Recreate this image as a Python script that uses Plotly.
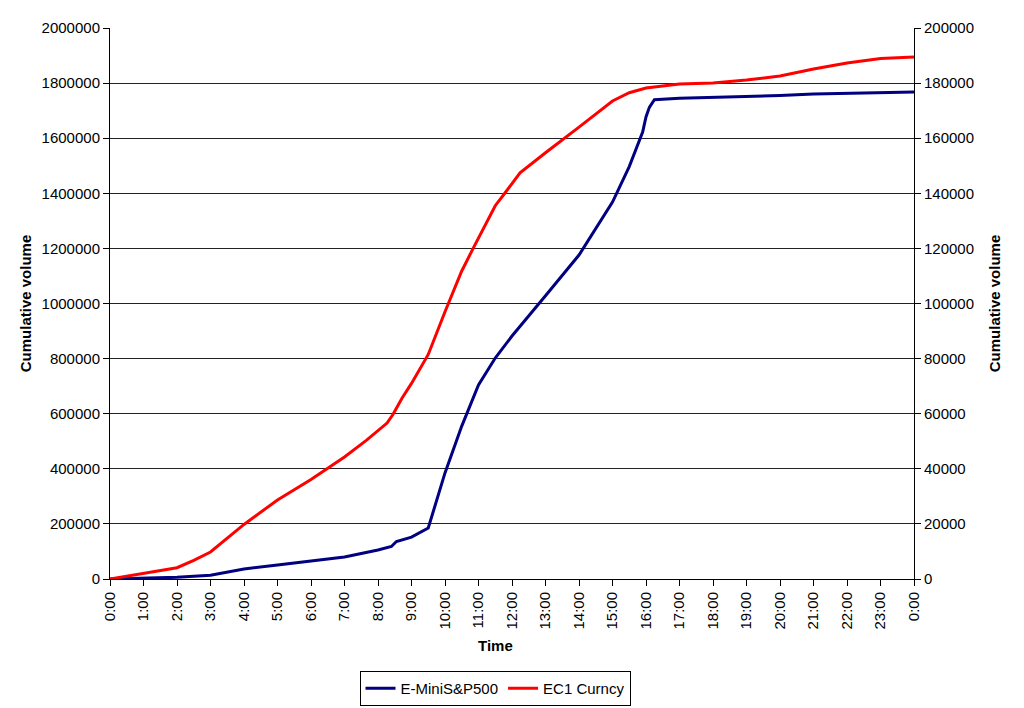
import plotly.graph_objects as go

# Hours since midnight
emini_hours = [0, 1, 2, 3, 4, 5, 6, 7, 8, 8.4, 8.55, 9, 9.5, 10, 10.5, 11, 11.5, 12, 13, 14, 15,
               15.5, 15.9, 16, 16.1, 16.25, 17, 18, 19, 20, 21, 22, 23, 24]
emini_volume = [0, 2000, 6000, 14000, 36000, 51000, 66000, 80000, 105000, 118000, 136000, 152000,
                185000, 385000, 555000, 704000, 802000, 882000, 1028000, 1176000, 1368000,
                1497000, 1622000, 1677000, 1712000, 1740000, 1745000, 1748000, 1752000, 1755000,
                1760000, 1763000, 1766000, 1768000]

ec1_hours = [0, 1, 2, 2.5, 3, 4, 5, 6, 7, 7.66, 8, 8.27, 8.45, 8.72, 9, 9.5, 10, 10.5, 10.84,
             11.5, 11.79, 12, 12.24, 13, 13.58, 14, 15, 15.5, 16, 17, 18, 19, 20, 21, 22, 23, 24]
ec1_volume = [0, 2000, 4100, 6800, 9800, 19800, 28700, 36100, 44300, 50400, 53900, 56600, 59800,
              65700, 71000, 81500, 97000, 111800, 120000, 135500, 140100, 143600, 147400,
              154700, 160000, 164000, 173500, 176500, 178200, 179700, 180000, 181100, 182600,
              185100, 187300, 188900, 189500]

tick_hours = list(range(0, 25))
tick_labels = [f"{h % 24}:00" for h in tick_hours]
left_ticks = list(range(0, 2000001, 200000))
right_ticks = list(range(0, 200001, 20000))

font = dict(family="Liberation Sans, Arial, sans-serif", size=15, color="black")

fig = go.Figure()
fig.add_trace(go.Scatter(x=emini_hours, y=emini_volume, mode="lines", name="E-MiniS&P500",
                         line=dict(color="#000080", width=3), yaxis="y"))
fig.add_trace(go.Scatter(x=ec1_hours, y=ec1_volume, mode="lines", name="EC1 Curncy",
                         line=dict(color="#FF0000", width=3), yaxis="y2"))

fig.update_layout(
    width=1024, height=708,
    margin=dict(l=110, r=110, t=28, b=129, autoexpand=False),
    paper_bgcolor="white", plot_bgcolor="white",
    font=font,
    showlegend=True,
    legend=dict(orientation="h", x=495 / 1024, xref="container", xanchor="center",
                y=(708 - 671) / 708, yref="container", yanchor="top",
                bordercolor="black", borderwidth=1, bgcolor="white",
                font=dict(family=font["family"], size=15), itemwidth=30,
                tracegroupgap=0),
    xaxis=dict(range=[0, 24], tickvals=tick_hours, ticktext=tick_labels, tickangle=-90,
               ticks="outside", ticklen=6, tickcolor="black", showline=True, linecolor="black",
               linewidth=1, showgrid=False, zeroline=False, tickfont=font, automargin=False),
    yaxis=dict(range=[0, 2000000], tickvals=left_ticks, ticks="outside", ticklen=6,
               tickcolor="black", showline=True, linecolor="black", linewidth=1,
               showgrid=True, gridcolor="#222222", gridwidth=1, zeroline=False,
               tickformat="d", tickfont=font, automargin=False,
               title=dict(text="<b>Cumulative volume</b>", font=font, standoff=6)),
    yaxis2=dict(range=[0, 200000], tickvals=right_ticks, overlaying="y", side="right",
                ticks="outside", ticklen=6, tickcolor="black", showline=True,
                linecolor="black", linewidth=1, showgrid=False, zeroline=False,
                tickformat="d", tickfont=font, automargin=False,
                title=dict(text="<b>Cumulative volume</b>", font=font, standoff=16)),
    annotations=[dict(text="<b>Time</b>", x=(495 - 110) / 804, xref="paper",
                      y=-(645 - 579) / 551, yref="paper",
                      yanchor="middle", xanchor="center", showarrow=False, font=font)],
)

fig.write_html("out.html")
